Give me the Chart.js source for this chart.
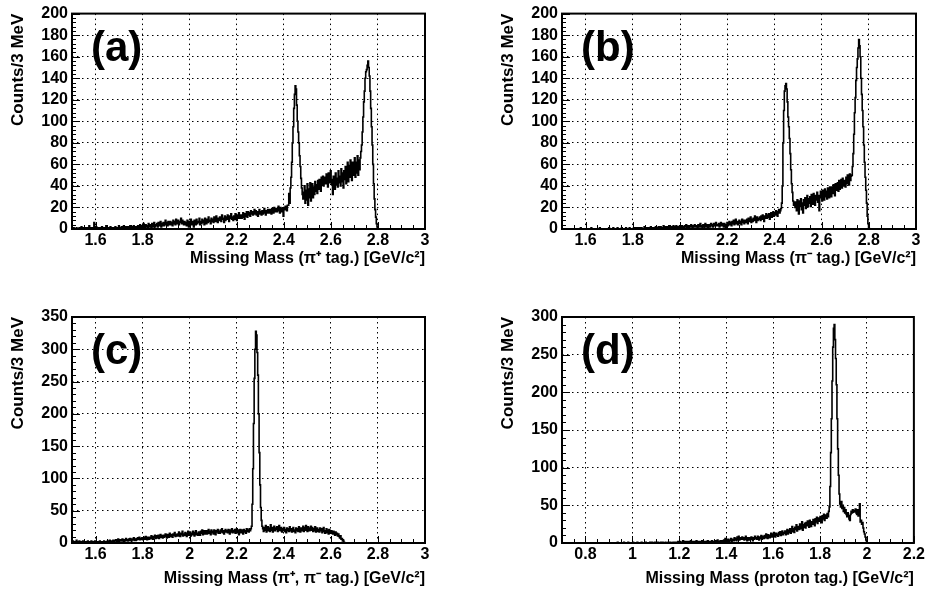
<!DOCTYPE html>
<html><head><meta charset="utf-8">
<script src="https://cdn.jsdelivr.net/npm/chart.js@4.4.1/dist/chart.umd.min.js"></script>
<style>
html,body{margin:0;padding:0;background:#fff;}
#wrap{position:relative;width:927px;height:590px;overflow:hidden;background:#fff;}
canvas{position:absolute;}
</style></head><body>
<div id="wrap">
<canvas id="ca" width="463" height="295" style="left:0;top:0"></canvas>
<canvas id="cb" width="464" height="295" style="left:463px;top:0"></canvas>
<canvas id="cc" width="463" height="295" style="left:0;top:295px"></canvas>
<canvas id="cd" width="464" height="295" style="left:463px;top:295px"></canvas>
</div>
<script>
// ---- data: counts per 3 MeV bin, starting at the given lower edge (GeV/c^2) ----
const BIN = 0.003;
const aStart = 1.500;
const aCounts = [
0,0,0,1,0,0,0,1,0,0, 0,1,0,0,2,0,1,0,0,1, 0,0,1,0,0,3,0,1,0,0, 1,0,6,1,0,2,0,0,1,0,
0,1,0,2,0,0,1,0,0,3, 0,1,0,0,1,2,0,1,0,0, 1,0,2,1,0,1,0,3,1,0, 1,2,0,1,3,0,1,2,0,1,
2,0,1,3,1,0,2,1,3,0, 1,2,1,0,3,1,2,4,1,2, 3,1,5,2,1,4,2,3,1,5, 2,4,3,1,5,2,3,6,2,4,
3,5,2,6,3,4,7,2,5,3, 6,3,5,8,4,6,3,7,5,4, 7,4,6,3,8,5,7,4,9,6, 5,8,4,7,6,10,5,8,6,4,
7,4,6,3,8,5,2,7,5,9, 4,7,5,2,8,6,4,9,5,7, 6,10,4,7,5,9,6,8,4,10, 7,5,9,6,11,7,8,5,10,7,
9,6,11,8,7,12,9,6,10,8, 11,8,7,13,9,10,6,12,8,11, 9,13,10,7,12,10,14,9,11,8, 12,9,14,11,8,13,10,15,11,10,
13,10,12,15,11,9,14,12,16,11, 16,13,15,12,17,14,16,13,15,18, 14,17,13,16,12,15,18,14,16,13, 17,14,16,19,15,13,17,15,18,16,
15,18,16,14,19,17,15,20,16,18, 19,16,18,21,17,15,20,18,16,19, 12,20,18,21,19,17,22,22,33,24, 38,48,62,80,95,112,125,133,130,115,
100,90,80,68,58,47,38,32,28,34, 40,24,36,27,42,22,37,29,43,26, 36,42,29,39,32,44,35,41,33,45, 37,46,39,35,48,41,49,40,45,48,
42,51,44,39,52,45,43,54,46,41, 32,49,43,37,52,41,47,39,54,43, 49,40,56,44,52,38,54,46,58,42, 53,62,44,59,48,64,53,45,62,50,
59,66,48,62,52,68,50,64,55,66, 72,78,90,104,118,128,140,146,148,152, 156,150,142,128,112,95,78,60,42,28, 18,11,5,2,0
];
const bStart = 1.500;
const bCounts = [
0,0,0,0,0,0,0,0,0,0, 0,0,0,0,0,0,0,0,0,0, 0,0,0,0,0,0,0,1,0,0, 0,0,0,0,0,0,0,0,0,0,
0,0,1,0,0,0,0,0,0,0, 0,0,0,0,1,0,0,0,0,0, 0,0,0,0,0,0,0,1,0,0, 0,0,0,1,0,0,0,0,0,1,
0,0,0,0,0,1,0,0,0,0, 0,1,0,0,0,0,1,0,0,0, 0,0,1,0,0,1,0,0,1,0, 1,0,0,1,0,0,0,2,0,1,
0,1,0,0,1,0,2,0,1,0, 1,0,1,2,0,1,0,2,1,0, 2,1,0,1,3,1,0,2,1,2, 0,2,1,3,1,0,2,1,3,1,
2,1,3,2,0,2,1,3,2,1, 3,1,2,0,3,2,4,1,2,3, 1,3,2,4,2,1,3,2,4,2, 3,2,1,4,2,3,5,2,3,1,
4,2,3,5,2,4,3,1,4,3, 2,5,3,4,2,5,3,4,6,3, 4,3,5,2,4,6,3,5,4,2, 5,3,1,4,6,3,5,7,4,6,
3,7,5,8,4,6,9,5,7,4, 6,8,5,7,4,9,6,8,5,7, 8,6,9,5,10,7,8,11,6,9, 7,10,8,12,9,6,11,8,10,9,
11,8,12,9,13,10,7,12,10,14, 10,13,11,14,9,12,15,11,13,16, 12,15,13,17,14,12,16,18,15,17, 19,24,40,80,110,128,133,135,130,118,
104,95,84,70,55,42,34,26,22,25, 20,25,17,27,22,14,26,21,28,18, 24,15,27,22,29,19,26,31,21,28, 24,30,21,32,25,23,33,27,22,31,
27,34,25,31,17,29,35,30,26,36, 31,27,37,30,35,28,38,32,29,39, 34,30,39,33,41,35,31,42,36,40, 43,35,45,37,41,46,38,47,40,44,
45,39,48,42,50,44,41,51,45,49, 50,58,70,88,108,122,138,150,158,168, 176,170,160,140,125,110,95,78,62,48, 36,24,12,5,1,0
];
const cStart = 1.500;
const cCounts = [
2,0,3,1,0,2,1,4,0,2, 1,3,0,2,1,0,3,1,2,0, 2,1,0,3,1,2,0,1,3,1, 0,2,1,3,0,2,1,0,2,1,
3,1,2,0,2,1,3,1,0,2, 1,3,2,1,4,2,1,3,2,4, 2,4,3,5,2,3,6,2,4,3, 5,3,6,4,2,5,3,7,4,5,
3,6,4,7,5,3,6,5,8,4, 6,4,7,5,8,6,9,5,7,6, 8,5,7,9,6,10,7,5,9,8, 6,9,7,11,8,6,10,8,12,7,
9,11,8,12,7,10,13,9,11,8, 12,9,11,14,10,8,13,11,9,15, 10,13,11,9,14,12,16,10,13,11, 14,11,17,12,10,15,13,18,11,14,
12,16,13,10,15,18,12,14,17,11, 15,13,18,14,11,16,19,13,15,12, 17,14,12,18,15,20,13,16,19,14, 16,19,14,17,21,15,18,13,20,16,
18,14,20,16,13,19,17,21,15,18, 15,20,17,22,16,19,14,18,21,17, 19,16,21,18,14,20,17,22,16,19, 17,21,15,19,22,16,20,13,18,21,
16,20,18,14,21,17,19,15,22,18, 20,17,22,19,22,26,60,115,185,255, 300,328,322,295,260,200,140,90,55,35, 26,22,18,24,20,27,17,21,25,19,
23,18,28,20,24,17,22,26,19,23, 21,25,18,22,27,20,19,24,17,22, 20,24,18,21,16,23,19,22,18,25, 19,22,17,21,24,18,20,16,23,19,
22,18,25,20,17,23,19,21,26,18, 24,20,27,21,18,25,22,19,23,26, 20,24,18,22,19,25,17,21,23,18, 21,17,23,19,22,16,20,24,18,15,
19,22,16,20,14,21,18,15,19,17, 14,18,16,12,17,13,15,11,14,10, 8,11,6,7,3,4,1,0,0,0
];
const dStart = 0.930;
const dCounts = [
0,0,0,1,0,0,0,0,0,0, 0,0,1,0,0,0,0,0,1,0, 0,0,0,0,0,1,0,0,0,0, 0,1,0,0,0,0,0,1,0,0,
0,0,0,1,0,0,0,0,0,1, 0,0,1,0,0,0,1,0,0,0, 1,0,0,0,1,0,0,1,0,0, 0,1,0,0,0,1,0,0,1,0,
0,0,1,0,1,0,0,1,0,2, 1,0,2,1,0,1,3,0,1,2, 0,2,1,0,2,1,0,3,1,0, 2,1,0,2,1,3,0,1,2,1,
0,2,1,3,1,0,2,1,0,2, 1,3,0,2,1,2,0,3,1,2, 2,0,3,1,2,4,1,2,0,3, 2,1,3,2,4,1,6,3,2,4,
5,2,4,3,6,2,5,4,3,7, 4,6,3,8,5,9,4,6,7,5, 8,5,7,4,6,9,5,3,7,6, 4,7,5,8,6,3,7,5,9,6,
7,5,9,6,4,8,6,10,5,8, 9,6,10,7,12,8,6,11,9,7, 10,13,8,12,9,14,11,8,13,10, 12,9,14,11,15,10,13,16,11,14,
13,16,11,15,18,12,17,14,19,13, 17,22,15,19,14,21,18,24,16,20, 22,18,25,19,23,28,17,24,21,26, 20,27,23,29,24,21,30,26,22,28,
25,31,27,23,32,28,34,26,30,33, 29,35,31,27,36,32,38,30,34,37, 33,39,35,42,48,75,120,165,215,260, 285,290,270,245,210,165,125,90,65,52,
48,55,46,50,42,47,40,44,38,35, 40,36,32,30,38,42,40,44,41,43, 42,45,40,38,44,36,40,52,28,30, 25,27,20,15,12,8,4,1,0
];

// ---- axes: tick values, titles, labels ----
const xTicksABC = [1.6, 1.8, 2.0, 2.2, 2.4, 2.6, 2.8, 3.0];
const xTicksD = [0.8, 1.0, 1.2, 1.4, 1.6, 1.8, 2.0, 2.2];
const yTicksAB = [0, 20, 40, 60, 80, 100, 120, 140, 160, 180, 200];
const yTicksC = [0, 50, 100, 150, 200, 250, 300, 350];
const yTicksD = [0, 50, 100, 150, 200, 250, 300];
const yTitle = 'Counts/3 MeV';
const xTitleA = 'Missing Mass (\u03C0\u207A tag.) [GeV/c\u00B2]';
const xTitleB = 'Missing Mass (\u03C0\u207B tag.) [GeV/c\u00B2]';
const xTitleC = 'Missing Mass (\u03C0\u207A, \u03C0\u207B tag.) [GeV/c\u00B2]';
const xTitleD = 'Missing Mass (proton tag.) [GeV/c\u00B2]';
const panelLabels = ['(a)', '(b)', '(c)', '(d)'];

const FONT = '"Liberation Sans", Arial, Helvetica, sans-serif';

function histPoints(start, counts) {
  const pts = counts.map((c, i) => ({x: start + i * BIN, y: c}));
  pts.push({x: start + counts.length * BIN, y: 0});
  return pts;
}
function fmt(v) { return String(Number(Number(v).toFixed(3))); }

const rootFrame = {
  id: 'rootFrame',
  afterDatasetsDraw(chart, args, o) {
    const {ctx, chartArea: a, scales: {x, y}} = chart;
    ctx.save();
    ctx.strokeStyle = '#000';
    ctx.lineWidth = 1;
    ctx.beginPath();
    for (let k = Math.ceil(x.min / o.xMinor - 1e-6); k * o.xMinor <= x.max + 1e-9; k++) {
      const v = k * o.xMinor;
      const isMajor = Math.abs(v / o.xMajor - Math.round(v / o.xMajor)) < 1e-6;
      const px = Math.round(x.getPixelForValue(v)) + 0.5;
      ctx.moveTo(px, a.bottom);
      ctx.lineTo(px, a.bottom - (isMajor ? 7 : 4));
    }
    for (let k = Math.ceil(y.min / o.yMinor - 1e-6); k * o.yMinor <= y.max + 1e-9; k++) {
      const v = k * o.yMinor;
      const isMajor = Math.abs(v / o.yMajor - Math.round(v / o.yMajor)) < 1e-6;
      const py = Math.round(y.getPixelForValue(v)) + 0.5;
      ctx.moveTo(a.left, py);
      ctx.lineTo(a.left + (isMajor ? 8 : 4), py);
    }
    ctx.stroke();
    ctx.lineWidth = 2;
    ctx.strokeRect(a.left, a.top, a.right - a.left, a.bottom - a.top);
    ctx.fillStyle = '#000';
    ctx.font = 'bold 42px ' + FONT;
    ctx.textBaseline = 'alphabetic';
    ctx.textAlign = 'left';
    ctx.fillText(o.label, a.left + 19, a.top + 47);
    ctx.restore();
  }
};

function makePanel(id, p) {
  const tickFont = {family: FONT, size: 16, weight: 'bold'};
  const xTitleFont = {family: FONT, size: 16, weight: 'bold'};
  const yTitleFont = {family: FONT, size: 17, weight: 'bold'};
  return new Chart(document.getElementById(id), {
    type: 'line',
    data: {datasets: [{
      data: histPoints(p.start, p.counts),
      stepped: 'after',
      borderColor: '#000',
      borderWidth: 1.6,
      pointRadius: 0,
      fill: false,
      tension: 0
    }]},
    plugins: [rootFrame],
    options: {
      responsive: false,
      animation: false,
      devicePixelRatio: 1,
      parsing: false,
      events: [],
      layout: {padding: {left: 0, top: p.padTop, right: p.padRight, bottom: 0}},
      plugins: {
        legend: {display: false},
        tooltip: {enabled: false},
        rootFrame: {label: p.label, xMajor: 0.2, xMinor: 0.05, yMajor: p.yMajor, yMinor: p.yMinor}
      },
      scales: {
        x: {
          type: 'linear', min: p.xMin, max: p.xMax,
          afterBuildTicks: s => { s.ticks = p.xTicks.map(v => ({value: v})); },
          afterFit: s => { s.height = p.xH; },
          ticks: {autoSkip: false, maxRotation: 0, padding: 2, color: '#000', font: tickFont, callback: v => fmt(v)},
          grid: {color: '#000', lineWidth: 1, drawTicks: false},
          border: {display: false, dash: [1.5, 3.5]},
          title: {display: true, text: p.xTitle, align: 'end', color: '#000', font: xTitleFont,
                  padding: {top: 0, bottom: p.xTitlePad}}
        },
        y: {
          type: 'linear', min: p.yMin, max: p.yMax,
          afterBuildTicks: s => { s.ticks = p.yTicks.map(v => ({value: v})); },
          afterFit: s => { s.width = p.yW; },
          ticks: {autoSkip: false, padding: 4, color: '#000', font: tickFont, callback: v => fmt(v)},
          grid: {color: '#000', lineWidth: 1, drawTicks: false},
          border: {display: false, dash: [1.5, 3.5]},
          title: {display: true, text: yTitle, align: 'end', color: '#000', font: yTitleFont,
                  padding: {top: p.yTitlePad, bottom: 0}}
        }
      }
    }
  });
}

makePanel('ca', {start: aStart, counts: aCounts, label: panelLabels[0], xMin: 1.5, xMax: 3.0, yMin: 0, yMax: 200,
  xTicks: xTicksABC, yTicks: yTicksAB, yMajor: 20, yMinor: 4, xTitle: xTitleA,
  padTop: 4, padRight: 38, yW: 72, xH: 66, xTitlePad: 27, yTitlePad: 8});
makePanel('cb', {start: bStart, counts: bCounts, label: panelLabels[1], xMin: 1.5, xMax: 3.0, yMin: 0, yMax: 200,
  xTicks: xTicksABC, yTicks: yTicksAB, yMajor: 20, yMinor: 4, xTitle: xTitleB,
  padTop: 4, padRight: 11, yW: 99, xH: 66, xTitlePad: 27, yTitlePad: 35});
makePanel('cc', {start: cStart, counts: cCounts, label: panelLabels[2], xMin: 1.5, xMax: 3.0, yMin: 0, yMax: 350,
  xTicks: xTicksABC, yTicks: yTicksC, yMajor: 50, yMinor: 10, xTitle: xTitleC,
  padTop: 22, padRight: 38, yW: 72, xH: 47, xTitlePad: 2, yTitlePad: 8});
makePanel('cd', {start: dStart, counts: dCounts, label: panelLabels[3], xMin: 0.7, xMax: 2.2, yMin: 0, yMax: 300,
  xTicks: xTicksD, yTicks: yTicksD, yMajor: 50, yMinor: 10, xTitle: xTitleD,
  padTop: 22, padRight: 11, yW: 99, xH: 47, xTitlePad: 2, yTitlePad: 35});
</script>
</body></html>
